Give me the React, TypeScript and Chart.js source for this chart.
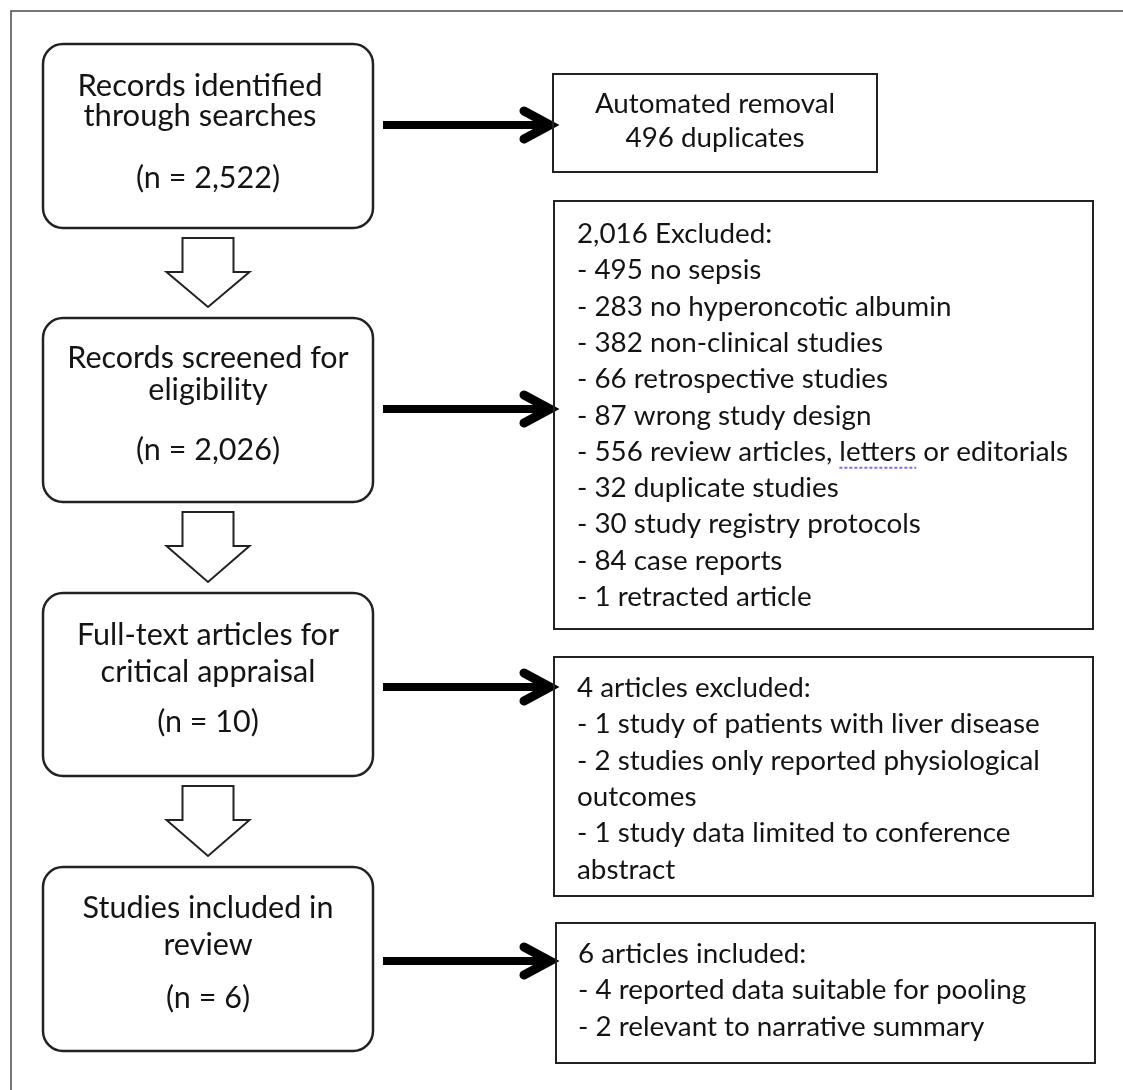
import React, { useEffect, useRef } from "react";
import { Chart, registerables } from "chart.js";

Chart.register(...registerables);

const W = 1123;
const H = 1090;

// ---------- data ----------
const stageTitles: string[][] = [
  ["Records identified", "through searches"],
  ["Records screened for", "eligibility"],
  ["Full-text articles for", "critical appraisal"],
  ["Studies included in", "review"],
];
const stageCounts: string[] = ["2,522", "2,026", "10", "6"];

const removalLines: string[] = ["Automated removal", "496 duplicates"];

const exclusionHeader = "2,016 Excluded:";
const exclusionCounts: number[] = [495, 283, 382, 66, 87, 556, 32, 30, 84, 1];
const exclusionReasons: string[] = [
  "no sepsis",
  "no hyperoncotic albumin",
  "non-clinical studies",
  "retrospective studies",
  "wrong study design",
  "review articles, letters or editorials",
  "duplicate studies",
  "study registry protocols",
  "case reports",
  "retracted article",
];

const fullTextHeader = "4 articles excluded:";
const fullTextLines: string[] = [
  "- 1 study of patients with liver disease",
  "- 2 studies only reported physiological",
  "outcomes",
  "- 1 study data limited to conference",
  "abstract",
];

const includedHeader = "6 articles included:";
const includedLines: string[] = [
  "- 4 reported data suitable for pooling",
  "- 2 relevant to narrative summary",
];

// ---------- layout (positions in reference pixel space) ----------
const LEFT_X0 = 43;
const LEFT_X1 = 373;
const leftBoxY: number[][] = [
  [44, 228],
  [318, 502],
  [593, 776],
  [867, 1051],
];
const leftBaselines: number[][] = [
  [95.5, 126, 188],
  [368, 400, 460],
  [645, 682, 732],
  [918, 955, 1008],
];
const leftTitleShift: number[] = [-8, 0, 0, 0];
const leftFontSize: number[] = [31, 30.5, 30.5, 30.5];

const arrowY: number[] = [125, 409, 687, 961];
const ARROW_X0 = 383;
const ARROW_X1 = 554;

const rightBoxes = [
  { x0: 553, x1: 877, y0: 74, y1: 172 },
  { x0: 554, x1: 1093, y0: 201, y1: 629 },
  { x0: 554, x1: 1093, y0: 657, y1: 896 },
  { x0: 556, x1: 1095, y0: 923, y1: 1063 },
];
const TEXT_X = 577;
const removalBaselines = [113, 147];
const exclusionFirstBase = 243;
const fullTextFirstBase = 697;
const includedFirstBase = 963;
const LINE_STEP = 36.3;

const FAMILY = '"Lato"';
const RIGHT_FONT = '27.8px "Lato"';
const INK = "#141414";
const STROKE = "#222222";

function roundRectPath(ctx: CanvasRenderingContext2D, x0: number, y0: number, x1: number, y1: number, r: number) {
  ctx.beginPath();
  ctx.moveTo(x0 + r, y0);
  ctx.lineTo(x1 - r, y0);
  ctx.arcTo(x1, y0, x1, y0 + r, r);
  ctx.lineTo(x1, y1 - r);
  ctx.arcTo(x1, y1, x1 - r, y1, r);
  ctx.lineTo(x0 + r, y1);
  ctx.arcTo(x0, y1, x0, y1 - r, r);
  ctx.lineTo(x0, y0 + r);
  ctx.arcTo(x0, y0, x0 + r, y0, r);
  ctx.closePath();
}

const flowPlugin = {
  id: "flowchart",
  afterDraw(chart: any) {
    const ctx: CanvasRenderingContext2D = chart.ctx;
    const xs = chart.scales.x;
    const ys = chart.scales.y;
    const px = (v: number) => xs.getPixelForValue(v);
    const py = (v: number) => ys.getPixelForValue(v);

    ctx.save();
    ctx.fillStyle = "#ffffff";
    ctx.fillRect(0, 0, chart.width, chart.height);

    // outer frame (right/bottom edges fall outside the picture)
    ctx.strokeStyle = "#4a4a4a";
    ctx.lineWidth = 1.5;
    ctx.beginPath();
    ctx.moveTo(px(11), py(H + 5));
    ctx.lineTo(px(11), py(11));
    ctx.lineTo(px(W + 5), py(11));
    ctx.stroke();

    // left rounded boxes
    ctx.strokeStyle = STROKE;
    ctx.lineWidth = 2.5;
    leftBoxY.forEach(([y0, y1]) => {
      roundRectPath(ctx, px(LEFT_X0), py(y0), px(LEFT_X1), py(y1), 20);
      ctx.stroke();
    });

    // left texts
    const cx = (LEFT_X0 + LEFT_X1) / 2;
    ctx.fillStyle = INK;
    ctx.textAlign = "center";
    ctx.textBaseline = "alphabetic";
    stageTitles.forEach((lines, i) => {
      ctx.font = leftFontSize[i] + "px " + FAMILY;
      lines.forEach((t, j) => {
        ctx.fillText(t, px(cx + leftTitleShift[i]), py(leftBaselines[i][j]));
      });
      ctx.font = "30.5px " + FAMILY;
      ctx.fillText("(n = " + stageCounts[i] + ")", px(cx), py(leftBaselines[i][2]));
    });

    // hollow down arrows
    ctx.lineWidth = 2;
    ctx.strokeStyle = STROKE;
    for (let i = 0; i < leftBoxY.length - 1; i++) {
      const top = leftBoxY[i][1] + 10;
      const base = top + 34;
      const tip = leftBoxY[i + 1][0] - 11;
      ctx.beginPath();
      ctx.moveTo(px(cx - 25.5), py(top));
      ctx.lineTo(px(cx + 25.5), py(top));
      ctx.lineTo(px(cx + 25.5), py(base));
      ctx.lineTo(px(cx + 41.5), py(base));
      ctx.lineTo(px(cx), py(tip));
      ctx.lineTo(px(cx - 41.5), py(base));
      ctx.lineTo(px(cx - 25.5), py(base));
      ctx.closePath();
      ctx.fillStyle = "#ffffff";
      ctx.fill();
      ctx.stroke();
    }

    // thick right arrows
    ctx.strokeStyle = "#000000";
    arrowY.forEach((y) => {
      ctx.lineWidth = 8;
      ctx.lineCap = "butt";
      ctx.beginPath();
      ctx.moveTo(px(ARROW_X0), py(y));
      ctx.lineTo(px(ARROW_X1 - 6), py(y));
      ctx.stroke();
      ctx.lineWidth = 9;
      ctx.lineCap = "round";
      ctx.lineJoin = "miter";
      ctx.beginPath();
      ctx.moveTo(px(ARROW_X1 - 30), py(y - 14));
      ctx.lineTo(px(ARROW_X1 - 4), py(y));
      ctx.lineTo(px(ARROW_X1 - 30), py(y + 14));
      ctx.stroke();
    });
    ctx.lineCap = "butt";

    // right rectangles
    ctx.strokeStyle = STROKE;
    ctx.lineWidth = 2;
    rightBoxes.forEach((b) => {
      ctx.strokeRect(px(b.x0), py(b.y0), px(b.x1) - px(b.x0), py(b.y1) - py(b.y0));
    });

    // right texts
    ctx.fillStyle = INK;
    ctx.font = RIGHT_FONT;
    ctx.textAlign = "center";
    const rb0 = rightBoxes[0];
    removalLines.forEach((t, j) => {
      ctx.fillText(t, px((rb0.x0 + rb0.x1) / 2), py(removalBaselines[j]));
    });

    ctx.textAlign = "left";
    const exLines = [exclusionHeader].concat(
      exclusionCounts.map((n, k) => "- " + n + " " + exclusionReasons[k])
    );
    exLines.forEach((t, j) => {
      ctx.fillText(t, px(TEXT_X), py(exclusionFirstBase + j * LINE_STEP));
    });

    // spell-check style dotted underline under "letters"
    const idx = exclusionCounts.indexOf(556);
    const line = exLines[idx + 1];
    const pre = line.slice(0, line.indexOf("letters"));
    const x0 = px(TEXT_X) + ctx.measureText(pre).width;
    const wl = ctx.measureText("letters").width;
    const yU = py(exclusionFirstBase + (idx + 1) * LINE_STEP + 7);
    ctx.save();
    ctx.strokeStyle = "#7b6cf0";
    ctx.lineWidth = 2;
    ctx.setLineDash([3, 2]);
    ctx.beginPath();
    ctx.moveTo(x0, yU);
    ctx.lineTo(x0 + wl, yU);
    ctx.stroke();
    ctx.restore();

    [fullTextHeader].concat(fullTextLines).forEach((t, j) => {
      ctx.fillText(t, px(TEXT_X), py(fullTextFirstBase + j * LINE_STEP));
    });
    [includedHeader].concat(includedLines).forEach((t, j) => {
      ctx.fillText(t, px(TEXT_X + 1), py(includedFirstBase + j * LINE_STEP));
    });

    ctx.restore();
  },
};

export default function App() {
  const ref = useRef<HTMLCanvasElement | null>(null);
  useEffect(() => {
    if (!ref.current) return;
    const chart = new Chart(ref.current, {
      type: "scatter",
      data: { datasets: [] },
      options: {
        animation: false,
        responsive: false,
        devicePixelRatio: 1,
        layout: { padding: 0 },
        plugins: { legend: { display: false }, tooltip: { enabled: false } },
        scales: {
          x: { type: "linear", min: 0, max: W, display: false },
          y: { type: "linear", min: 0, max: H, reverse: true, display: false },
        },
      },
      plugins: [flowPlugin],
    } as any);
    return () => chart.destroy();
  }, []);
  return (
    <div style={{ position: "absolute", left: 0, top: 0, width: W, height: H, overflow: "hidden", background: "#fff" }}>
      <canvas ref={ref} width={W} height={H} style={{ width: W, height: H, display: "block" }} />
    </div>
  );
}
